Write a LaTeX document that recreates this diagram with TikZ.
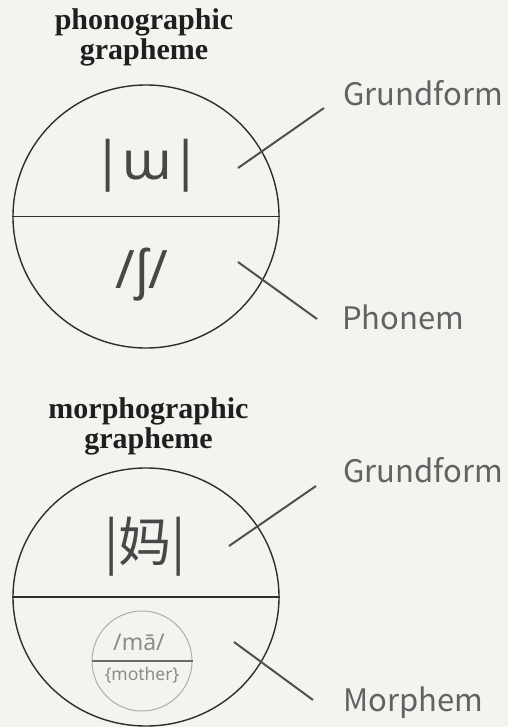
\documentclass[tikz,border=0pt]{standalone}
\usepackage{fontspec}
\setmainfont{Liberation Serif}
\newfontfamily\labelfont{Noto Sans CJK SC}
\newfontfamily\ipafont{Noto Sans}
\usetikzlibrary{shapes.geometric}
\definecolor{bg}{HTML}{F3F3F0}
\definecolor{ringc}{HTML}{2E2E2E}
\definecolor{glyphc}{HTML}{474747}
\definecolor{lblc}{HTML}{626262}
\definecolor{linec}{HTML}{505050}
\definecolor{smallc}{HTML}{9A9A9A}
\begin{document}
\begin{tikzpicture}[x=1pt,y=-1pt,
  title/.style={font=\bfseries\fontsize{30}{30}\selectfont, align=center, anchor=north, inner sep=0pt, text=black!88},
  ring/.style={ellipse, draw=ringc, line width=1.4pt, inner sep=0pt},
  divider/.style={draw=ringc, line width=1.8pt},
  glyph/.style={font=\ipafont\fontsize{53}{53}\selectfont, text=glyphc, anchor=base, inner sep=0pt},
  cjkglyph/.style={font=\labelfont\fontsize{53}{53}\selectfont, text=glyphc, anchor=base, inner sep=0pt},
  lbl/.style={font=\labelfont\fontsize{31}{31}\selectfont, text=lblc, anchor=base west, inner sep=0pt},
  pointer/.style={draw=linec, line width=2pt},
  smallring/.style={circle, draw=smallc!80, line width=1pt, inner sep=0pt, minimum size=100pt},
  smalldiv/.style={draw=smallc!70!black, line width=1.2pt},
  smalltext/.style={font=\ipafont, text=smallc!90!black, anchor=base, inner sep=0pt}
]
\fill[bg] (0,0) rectangle (508,727);
\useasboundingbox (0,0) rectangle (508,727);

% ---------- phonographic grapheme ----------
\node[title] (t1) at (144,8) {phonographic\\grapheme};
\node[ring, minimum width=266pt, minimum height=263pt] (c1) at (146,216.5) {};
\draw[divider] (c1.west) -- (c1.east);
\node[glyph] (g1) at (147,180) {|ɯ|};
\node[glyph] (p1) at (142,288) {/ʃ/};
\node[lbl] (l1) at (343,106) {Grundform};
\node[lbl] (l2) at (342,329) {Phonem};
\coordinate (a1) at (238,168);
\coordinate (b1) at (324,108);
\coordinate (a2) at (238,262);
\coordinate (b2) at (317,319);
\draw[pointer] (a1) -- (b1);
\draw[pointer] (a2) -- (b2);

% ---------- morphographic grapheme ----------
\node[title] (t2) at (148.5,397) {morphographic\\grapheme};
\node[ring, minimum width=266pt, minimum height=258pt] (c2) at (146,597) {};
\draw[divider] (c2.west) -- (c2.east);
\node[cjkglyph] (g2) at (145,561) {|妈|};
\node[smallring] (s) at (142,661) {};
\draw[smalldiv] (s.west) -- (s.east);
\node[smalltext, font=\ipafont\fontsize{23}{23}\selectfont] (m1) at (139,650) {/mā/};
\node[smalltext, font=\ipafont\fontsize{17.5}{17.5}\selectfont] (m2) at (142,680) {\{mother\}};
\node[lbl] (l3) at (343,482) {Grundform};
\node[lbl] (l4) at (343,711) {Morphem};
\coordinate (a3) at (229,546);
\coordinate (b3) at (316,486);
\coordinate (a4) at (234,642);
\coordinate (b4) at (313,700);
\draw[pointer] (a3) -- (b3);
\draw[pointer] (a4) -- (b4);
\end{tikzpicture}
\end{document}
